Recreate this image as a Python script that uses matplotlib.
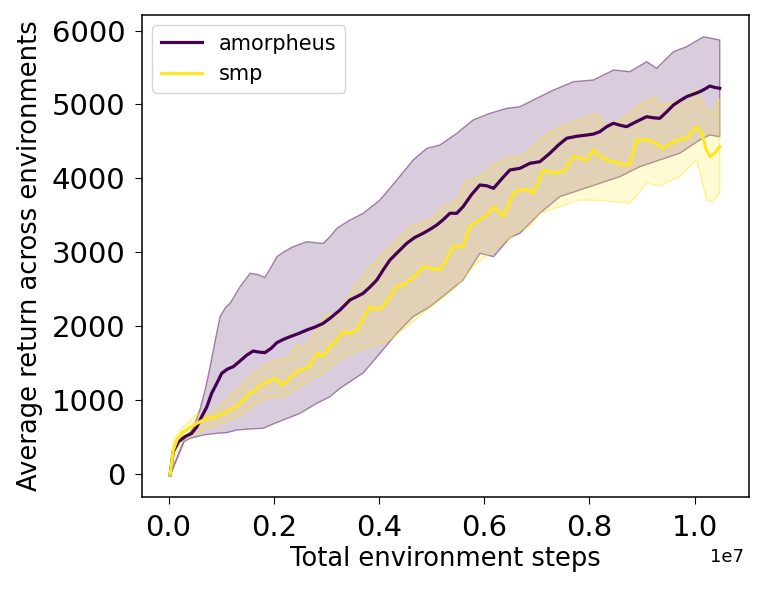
import numpy as np
import matplotlib
matplotlib.use("Agg")
import matplotlib.pyplot as plt

# x values in units of 1e7 environment steps
amor_x = [0.003, 0.009, 0.019, 0.031, 0.044, 0.054, 0.063, 0.073, 0.082, 0.095,
          0.101, 0.112, 0.123, 0.136, 0.149, 0.161, 0.172, 0.183, 0.195, 0.206,
          0.218, 0.231, 0.247, 0.263, 0.279, 0.294, 0.307, 0.326, 0.345, 0.358,
          0.370, 0.383, 0.396, 0.408, 0.421, 0.437, 0.453, 0.468, 0.484, 0.497,
          0.510, 0.522, 0.535, 0.548, 0.560, 0.576, 0.592, 0.605, 0.618, 0.633,
          0.649, 0.668, 0.687, 0.706, 0.725, 0.741, 0.757, 0.776, 0.795, 0.808,
          0.820, 0.833, 0.846, 0.858, 0.871, 0.890, 0.909, 0.922, 0.934, 0.947,
          0.960, 0.972, 0.985, 0.998, 1.010, 1.020, 1.029, 1.039, 1.048]
amor_mean = [-14, 302, 437, 505, 550, 640, 775, 911, 1092, 1272,
             1362, 1420, 1452, 1530, 1610, 1664, 1650, 1642, 1700, 1777,
             1820, 1858, 1900, 1949, 1990, 2039, 2107, 2219, 2355, 2400,
             2445, 2530, 2625, 2760, 2896, 3010, 3122, 3200, 3257, 3310,
             3369, 3440, 3528, 3528, 3617, 3780, 3911, 3900, 3866, 3990,
             4114, 4136, 4204, 4226, 4340, 4450, 4543, 4570, 4587, 4600,
             4632, 4700, 4746, 4720, 4700, 4770, 4835, 4820, 4813, 4900,
             4993, 5050, 5106, 5140, 5173, 5210, 5250, 5230, 5219]

amor_hi_x = [0.003, 0.030, 0.047, 0.060, 0.070, 0.079, 0.090, 0.098, 0.108, 0.117,
             0.136, 0.155, 0.170, 0.183, 0.195, 0.206, 0.220, 0.237, 0.250, 0.263,
             0.280, 0.294, 0.307, 0.320, 0.345, 0.370, 0.402, 0.434, 0.465, 0.491,
             0.516, 0.548, 0.579, 0.611, 0.643, 0.668, 0.700, 0.732, 0.770, 0.808,
             0.846, 0.877, 0.909, 0.928, 0.960, 0.985, 1.017, 1.048]
amor_hi = [-10, 470, 620, 880, 1150, 1450, 1850, 2129, 2250, 2310,
           2535, 2716, 2700, 2660, 2800, 2941, 3010, 3076, 3110, 3143,
           3130, 3121, 3211, 3324, 3437, 3528, 3708, 3978, 4249, 4407,
           4452, 4610, 4790, 4881, 4948, 4970, 5084, 5196, 5309, 5332,
           5467, 5444, 5579, 5490, 5715, 5782, 5917, 5873]

amor_lo_x = [0.003, 0.030, 0.041, 0.054, 0.066, 0.092, 0.111, 0.130, 0.155, 0.180,
             0.200, 0.218, 0.250, 0.282, 0.307, 0.326, 0.345, 0.370, 0.402, 0.434,
             0.465, 0.497, 0.529, 0.560, 0.592, 0.618, 0.649, 0.668, 0.687, 0.706,
             0.744, 0.782, 0.820, 0.858, 0.896, 0.934, 0.972, 1.010, 1.029, 1.048]
amor_lo = [-20, 440, 483, 505, 528, 551, 560, 595, 610, 618,
           680, 731, 821, 957, 1046, 1159, 1250, 1366, 1633, 1904,
           2129, 2264, 2445, 2625, 2986, 2941, 3200, 3257, 3392, 3528,
           3753, 3843, 3933, 4023, 4158, 4249, 4340, 4520, 4587, 4564]

smp_x = [0.003, 0.006, 0.009, 0.016, 0.025, 0.038, 0.054, 0.073, 0.092, 0.111,
         0.130, 0.142, 0.155, 0.168, 0.180, 0.193, 0.202, 0.210, 0.218, 0.231,
         0.244, 0.256, 0.269, 0.282, 0.294, 0.307, 0.320, 0.332, 0.345, 0.358,
         0.370, 0.383, 0.396, 0.408, 0.421, 0.434, 0.446, 0.459, 0.472, 0.484,
         0.497, 0.516, 0.529, 0.541, 0.560, 0.573, 0.592, 0.605, 0.618, 0.637,
         0.656, 0.668, 0.681, 0.694, 0.713, 0.732, 0.751, 0.770, 0.795, 0.808,
         0.820, 0.833, 0.858, 0.877, 0.890, 0.915, 0.941, 0.960, 0.985, 1.004,
         1.014, 1.022, 1.029, 1.039, 1.048]
smp_mean = [-14, 145, 325, 460, 550, 618, 686, 753, 775, 843,
            911, 1000, 1092, 1150, 1227, 1260, 1295, 1240, 1204, 1300,
            1384, 1420, 1452, 1633, 1587, 1723, 1810, 1926, 1900, 1949,
            2100, 2264, 2230, 2264, 2400, 2535, 2560, 2625, 2700, 2805,
            2790, 2760, 2900, 3076, 3076, 3346, 3437, 3500, 3617, 3482,
            3798, 3843, 3850, 3798, 4114, 4069, 4091, 4294, 4249, 4384,
            4300, 4249, 4204, 4181, 4520, 4520, 4407, 4497, 4543, 4700,
            4610, 4400, 4294, 4350, 4429]

smp_hi_x = [0.003, 0.009, 0.022, 0.038, 0.054, 0.066, 0.079, 0.098, 0.123, 0.155,
            0.180, 0.206, 0.231, 0.244, 0.256, 0.282, 0.301, 0.320, 0.345, 0.383,
            0.421, 0.459, 0.497, 0.522, 0.548, 0.567, 0.592, 0.611, 0.649, 0.668,
            0.687, 0.719, 0.776, 0.814, 0.833, 0.858, 0.890, 0.922, 0.941, 0.972,
            1.004, 1.023, 1.033, 1.048]
smp_hi = [0, 460, 595, 708, 821, 775, 830, 911, 1092, 1317,
          1452, 1543, 1587, 1768, 1678, 1949, 2175, 2129, 2445, 2805,
          3076, 3346, 3437, 3617, 3708, 3978, 4023, 4158, 4294, 4294,
          4384, 4610, 4790, 4881, 4700, 4790, 4970, 5106, 4993, 5061,
          5196, 4926, 4881, 5084]

smp_lo_x = [0.003, 0.009, 0.022, 0.041, 0.066, 0.092, 0.117, 0.142, 0.168, 0.193,
            0.218, 0.244, 0.269, 0.294, 0.307, 0.345, 0.383, 0.421, 0.453, 0.484,
            0.516, 0.548, 0.579, 0.611, 0.643, 0.668, 0.687, 0.706, 0.744, 0.782,
            0.826, 0.877, 0.909, 0.934, 0.972, 1.004, 1.023, 1.033, 1.048]
smp_lo = [-20, 190, 415, 505, 595, 663, 720, 821, 957, 1046,
          1046, 1159, 1272, 1362, 1452, 1633, 1723, 1813, 1994, 2175,
          2355, 2535, 2805, 2986, 3166, 3300, 3346, 3528, 3617, 3708,
          3700, 3663, 3933, 3900, 4023, 4249, 3708, 3686, 3798]

purple = "#440154"
yellow = "#fde725"
scale = 1e7


def band(ax, xs_hi, hi, xs_lo, lo, color):
    px = np.concatenate([np.array(xs_hi), np.array(xs_lo)[::-1]]) * scale
    py = np.concatenate([np.array(hi), np.array(lo)[::-1]])
    ax.fill(px, py, facecolor=(color, 0.2), edgecolor=(color, 0.45), lw=1.0)


fig = plt.figure(figsize=(7.62, 5.90), dpi=100)
ax = fig.add_axes([142 / 762, 1 - 497 / 590, 607 / 762, 482 / 590])

band(ax, amor_hi_x, amor_hi, amor_lo_x, amor_lo, purple)
band(ax, smp_hi_x, smp_hi, smp_lo_x, smp_lo, yellow)
ax.plot(np.array(amor_x) * scale, amor_mean, color=purple, lw=2.3, label="amorpheus")
ax.plot(np.array(smp_x) * scale, smp_mean, color=yellow, lw=2.3, label="smp")

ax.set_xlim(-0.0504 * scale, 1.1036 * scale)
ax.set_ylim(-311, 6211)
ax.set_xticks(np.array([0.0, 0.2, 0.4, 0.6, 0.8, 1.0]) * scale)
ax.set_yticks([0, 1000, 2000, 3000, 4000, 5000, 6000])
ax.tick_params(labelsize=21, length=5, pad=7)
for sp in ax.spines.values():
    sp.set_linewidth(1.1)

# the scale marker sits lower than matplotlib puts it, so write it directly
ax.xaxis.get_offset_text().set_visible(False)
fig.text(727 / 762, 1 - 557 / 590, "1e7", fontsize=13, ha="center", va="center")

ax.set_xlabel("Total environment steps", fontsize=18.5, labelpad=3)
ax.set_ylabel("Average return across environments", fontsize=18.5, labelpad=6)
ax.legend(loc="upper left", fontsize=15)

fig.savefig("out.png", dpi=100)
